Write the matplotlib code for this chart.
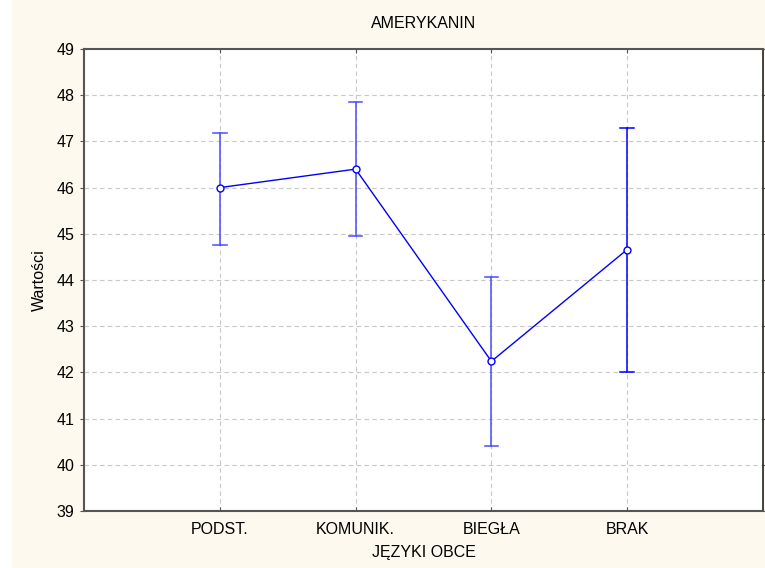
import matplotlib
matplotlib.use("Agg")
import matplotlib.pyplot as plt
from matplotlib.patches import Rectangle

plt.rcParams['font.family'] = ['Liberation Sans', 'DejaVu Sans']

# data
categories = ['PODST.', 'KOMUNIK.', 'BIEGŁA', 'BRAK']
means = [46.0, 46.40, 42.24, 44.66]
upper = [47.18, 47.85, 44.06, 47.30]
lower = [44.76, 44.95, 40.41, 42.00]
bar_colors = ['#4a4aff', '#4a4aff', '#4a4aff', '#0000ff']
yticks = [39, 40, 41, 42, 43, 44, 45, 46, 47, 48, 49]

fig = plt.figure(figsize=(7.65, 5.68), dpi=100)
fig.patch.set_facecolor('white')
# cream background, white strip on the left
fig.patches.append(Rectangle((12 / 765, 0), 1, 1, transform=fig.transFigure,
                             facecolor='#fdf9ee', edgecolor='none', zorder=-10))

ax = fig.add_axes([84 / 765, 1 - 511 / 568, (763 - 84) / 765, (511 - 49) / 568])
ax.set_facecolor('white')

x = list(range(1, len(categories) + 1))

# error bars
for xi, lo, hi, c in zip(x, lower, upper, bar_colors):
    ax.plot([xi, xi], [lo, hi], color=c, lw=1.1, zorder=3)
    ax.plot([xi - 0.05, xi + 0.05], [lo, lo], color=c, lw=1.1, zorder=3)
    ax.plot([xi - 0.05, xi + 0.05], [hi, hi], color=c, lw=1.1, zorder=3)

# mean line
ax.plot(x, means, color='#0000ff', lw=1.0, marker='o', markersize=5,
        markerfacecolor='white', markeredgecolor='#0000ff', markeredgewidth=1.0, zorder=4)

ax.set_xlim(0, 5)
ax.set_ylim(39, 49)
ax.set_xticks(x)
ax.set_xticklabels(categories)
ax.set_yticks(yticks)

ax.grid(True, color='#c8c8c8', linestyle=(0, (4, 3)), lw=0.8)
ax.set_axisbelow(True)

for side in ['left', 'bottom', 'top']:
    ax.spines[side].set_color('#555555')
    ax.spines[side].set_linewidth(1.5)
ax.spines['right'].set_color('#222222')
ax.spines['right'].set_linewidth(1.2)

ax.tick_params(axis='y', direction='out', length=3, labelsize=11.5, color='#555555',
               right=True, pad=4)
ax.tick_params(axis='x', direction='in', length=3, labelsize=11.5, color='#555555',
               top=True, pad=8)

ax.set_title('AMERYKANIN', fontsize=11.5, pad=15)
ax.set_xlabel('JĘZYKI OBCE', fontsize=11.5, labelpad=6)
ax.set_ylabel('Wartości', fontsize=11.5, labelpad=7)

fig.savefig('out.png', dpi=100, facecolor=fig.get_facecolor())
